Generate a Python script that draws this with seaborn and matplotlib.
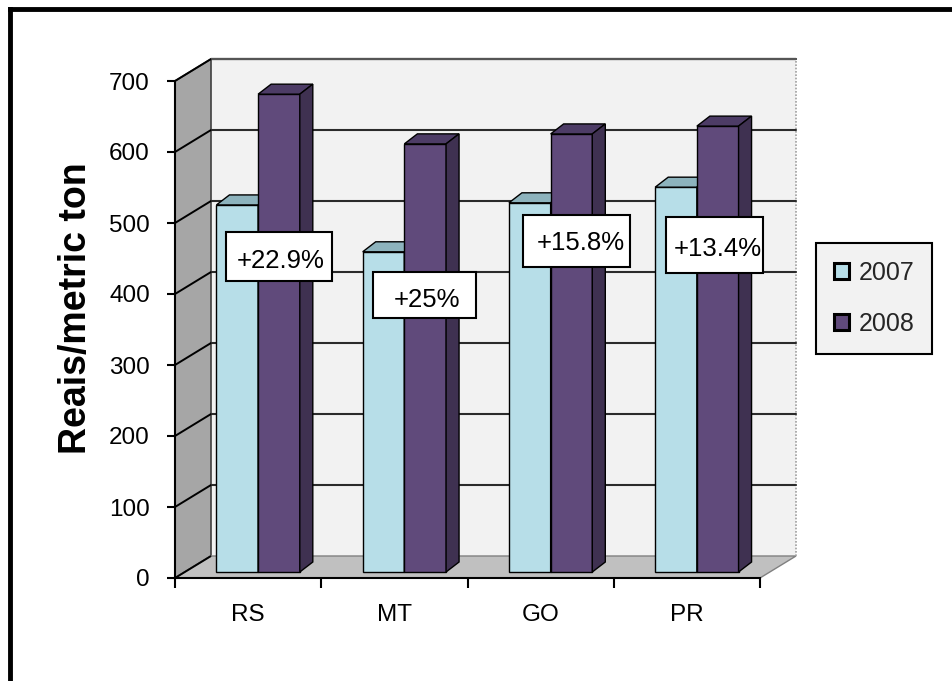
import pandas as pd
import matplotlib
matplotlib.use("Agg")
import matplotlib.pyplot as plt
import matplotlib.transforms as mtransforms
from matplotlib.patches import Polygon, Rectangle, Patch
from matplotlib.lines import Line2D
import seaborn as sns

# ---- data -------------------------------------------------------------
regions = ["RS", "MT", "GO", "PR"]
years = ["2007", "2008"]
price_2007 = [517, 451, 520, 542]
price_2008 = [673, 603, 617, 628]
growth_labels = ["+22.9%", "+25%", "+15.8%", "+13.4%"]
y_ticks = [0, 100, 200, 300, 400, 500, 600, 700]

df = pd.DataFrame({
    "region": regions * 2,
    "year": [years[0]] * len(regions) + [years[1]] * len(regions),
    "price": price_2007 + price_2008,
})

# ---- styling ------------------------------------------------------------
front_col = {"2007": "#b7dee8", "2008": "#604a7b"}
top_col = {"2007": "#8db3bd", "2008": "#4d3c66"}
side_col = {"2007": "#80a4ad", "2008": "#3f3151"}
WALL_BACK = "#f2f2f2"
WALL_LEFT = "#a6a6a6"
FLOOR = "#c0c0c0"

sns.set_theme(style="white")
plt.rcParams["font.family"] = ["Liberation Sans", "DejaVu Sans"]

W, H = 952, 681
fig = plt.figure(figsize=(W / 100, H / 100), dpi=100)

# pixel scale of the front plane
SX = 146.25      # px per category
SY = 0.71        # px per value unit
X_LEFT, Y_ZERO = 175, 578
ax = fig.add_axes([X_LEFT / W, 1 - 600 / H, 635 / W, 555 / H])


def px_x(p):
    return p / SX


def px_y(p):
    return p / SY


def to_data(px, py):
    return -0.5 + (px - X_LEFT) / SX, (Y_ZERO - py) / SY


sns.barplot(data=df, x="region", y="price", hue="year", order=regions,
            hue_order=years, palette=[front_col[y] for y in years],
            saturation=1, width=0.57, edgecolor="black", linewidth=1,
            legend=False, ax=ax)
bars = list(ax.patches)

ax.set_xlim(-0.5, -0.5 + 635 / SX)
ax.set_ylim(-(600 - Y_ZERO) / SY, (Y_ZERO - 45) / SY)
ax.set_facecolor("none")
ax.set_xlabel("")
ax.set_ylabel("")

# ---- 3-D box: left wall, back wall, floor -----------------------------
WX, WY = px_x(36), px_y(22)
x0, x1 = -0.5, len(regions) - 0.5
ymax = y_ticks[-1]
ax.add_patch(Polygon([(x0, 0), (x0, ymax), (x0 + WX, ymax + WY), (x0 + WX, WY)],
                     closed=True, fc=WALL_LEFT, ec="#404040", lw=1.2, zorder=0.5))
ax.add_patch(Rectangle((x0 + WX, WY), x1 - x0, ymax, fc=WALL_BACK, ec="none",
                       zorder=0.4))
ax.add_patch(Polygon([(x0, 0), (x1, 0), (x1 + WX, WY), (x0 + WX, WY)],
                     closed=True, fc=FLOOR, ec="#808080", lw=1, zorder=0.6))
ax.plot([x1 + WX, x1 + WX], [WY, ymax + WY], color="#a0a0a0", lw=1.2,
        ls=(0, (1, 1)), zorder=0.7)
for v in y_ticks:
    if v > 0:
        ax.plot([x0 + WX, x1 + WX], [v + WY, v + WY], color="#2b2b2b",
                lw=1.5, zorder=0.8)
    ax.plot([x0, x0 + WX], [v, v + WY], color="black", lw=1.4, zorder=0.9,
            solid_capstyle="butt")
ax.plot([x0 + WX, x1 + WX], [ymax + WY, ymax + WY], color="#555555", lw=1.6,
        zorder=0.85)

# ---- bars with depth ----------------------------------------------------
BX, BY = px_x(10), px_y(6)       # bar position inside the box
DX, DY = px_x(13), px_y(10)      # bar depth
shift = mtransforms.Affine2D().translate(BX, BY) + ax.transData
n = len(regions)
for k, p in enumerate(bars):
    yr = years[k // n]
    z = 3 + 0.1 * (k // n)
    x, w, h = p.get_x(), p.get_width(), p.get_height()
    p.set_transform(shift)
    p.set_zorder(z)
    top = Polygon([(x, h), (x + w, h), (x + w + DX, h + DY), (x + DX, h + DY)],
                  closed=True, fc=top_col[yr], ec="black", lw=1, zorder=z + 0.01)
    side = Polygon([(x + w, 0), (x + w + DX, DY), (x + w + DX, h + DY), (x + w, h)],
                   closed=True, fc=side_col[yr], ec="black", lw=1, zorder=z + 0.01)
    for poly in (top, side):
        poly.set_transform(shift)
        ax.add_patch(poly)

# ---- growth callouts ------------------------------------------------------
boxes = [(226, 232, 106, 49), (373, 272, 103, 46), (523, 215, 107, 52), (666, 217, 97, 56)]
text_pos = [(281, 261), (427, 300), (581, 243), (718, 249)]
for lab, (bl, bt, bw, bh), (tx, ty) in zip(growth_labels, boxes, text_pos):
    lx, ty_top = to_data(bl, bt)
    ax.add_patch(Rectangle((lx, ty_top - px_y(bh)), px_x(bw), px_y(bh), fc="white",
                           ec="black", lw=1.5, zorder=6))
    cx, cy = to_data(tx, ty)
    ax.text(cx, cy, lab, ha="center", va="center", fontsize=18.5, color="black",
            zorder=7)

# ---- axes ---------------------------------------------------------------
for s in ("top", "right"):
    ax.spines[s].set_visible(False)
ax.spines["left"].set_bounds(0, ymax)
ax.spines["left"].set_linewidth(1.5)
ax.spines["left"].set_color("black")
ax.spines["bottom"].set_position(("data", 0))
ax.spines["bottom"].set_bounds(x0, x1)
ax.spines["bottom"].set_linewidth(1.5)
ax.spines["bottom"].set_color("black")

ax.set_yticks(y_ticks)
ax.set_yticklabels([str(v) for v in y_ticks])
ax.tick_params(axis="y", direction="out", left=True, length=6, width=1.5,
               pad=12, labelsize=17.5, colors="black")
ax.set_xticks([i - 0.5 for i in range(n + 1)])
ax.set_xticklabels([])
ax.set_xticks(range(n), minor=True)
ax.set_xticklabels(regions, minor=True)
ax.tick_params(axis="x", which="major", direction="out", bottom=True, length=7,
               width=1.5, colors="black")
ax.tick_params(axis="x", which="minor", bottom=True, length=0, pad=19,
               labelsize=17.5, labelcolor="black")

fig.text(76 / W, 1 - 308 / H, "Reais/metric ton", rotation=90, ha="center",
         va="center", fontsize=27, fontweight="bold", color="black")

# ---- legend -----------------------------------------------------------------
handles = [Patch(fc=front_col[y], ec="black", lw=2.2) for y in years]
leg = fig.legend(handles, years, loc="upper left",
                 bbox_to_anchor=(816 / W, 1 - 243 / H), frameon=True,
                 fancybox=False, edgecolor="black", facecolor=WALL_BACK,
                 framealpha=1, fontsize=18, handlelength=0.6, handleheight=0.6,
                 handletextpad=0.4, labelspacing=1.1, borderpad=0.7,
                 borderaxespad=0)
leg.get_frame().set_linewidth(1.5)

# ---- outer frame ------------------------------------------------------------
fig.add_artist(Line2D([9.5 / W, 9.5 / W], [0, 1 - 8.5 / H], lw=3.5, color="black",
                      transform=fig.transFigure, solid_capstyle="projecting"))
fig.add_artist(Line2D([9.5 / W, 1], [1 - 8.5 / H, 1 - 8.5 / H], lw=3.5,
                      color="black", transform=fig.transFigure,
                      solid_capstyle="projecting"))

fig.savefig("out.png", dpi=100, facecolor="white")
